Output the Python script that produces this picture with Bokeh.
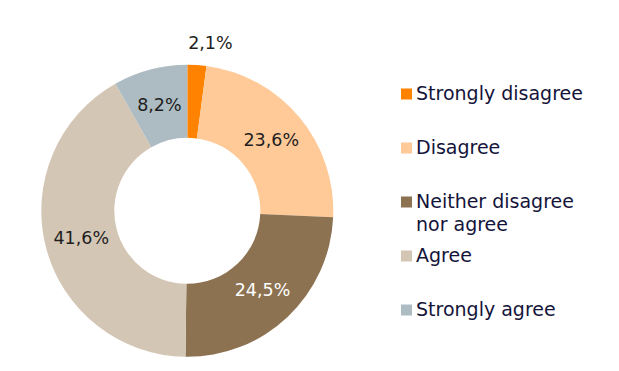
import numpy as np
from bokeh.plotting import figure
from bokeh.models import Range1d, ColumnDataSource
from bokeh.embed import file_html
from bokeh.resources import INLINE
from bokeh.core.properties import value

# ---- data ----
categories = ["Strongly disagree", "Disagree", "Neither disagree\nnor agree", "Agree", "Strongly agree"]
shares = [2.1, 23.6, 24.5, 41.6, 8.2]
labels = ["2,1%", "23,6%", "24,5%", "41,6%", "8,2%"]
colors = ["#FF8200", "#FFCA98", "#8C7250", "#D4C6B5", "#ADBCC2"]
label_colors = ["#1e1e1e", "#1e1e1e", "#ffffff", "#1e1e1e", "#1e1e1e"]

FONT = "DejaVu Sans"
W, H = 603, 360
CX, CY = 186.8, H - 210.3
R_OUT, R_IN = 146, 73

p = figure(width=W, height=H, x_range=Range1d(0, W), y_range=Range1d(0, H),
           output_backend="svg", toolbar_location=None, min_border=0)
p.axis.visible = False
p.grid.visible = False
p.outline_line_color = None

vals = np.array(shares, dtype=float)
frac = vals / vals.sum()
cum_end = np.cumsum(frac)
cum_start = cum_end - frac
start = np.pi / 2 - 2 * np.pi * cum_start
end = np.pi / 2 - 2 * np.pi * cum_end
mid = (start + end) / 2

src = ColumnDataSource(dict(start=start, end=end, color=colors))
p.annular_wedge(x=CX, y=CY, inner_radius=R_IN, outer_radius=R_OUT,
                start_angle="start", end_angle="end", direction="clock",
                fill_color="color", line_color=None, source=src)

# labels: inside at mid radius, outside for very small slices
lx, ly = [], []
for f, a in zip(frac, mid):
    if f < 0.05:
        r = R_OUT + 22
        lx.append(CX + r * np.cos(a) + 12)
        ly.append(CY + r * np.sin(a))
    else:
        r = (R_OUT + R_IN) / 2
        lx.append(CX + r * np.cos(a))
        ly.append(CY + r * np.sin(a))
p.text(x=lx, y=ly, text=labels, text_color=label_colors,
       text_align="center", text_baseline="middle",
       text_font=value(FONT), text_font_size="17.5px")

# legend
LEG_X, LEG_Y0, LEG_DY, LINE_H = 406, H - 92.5, 54, 22.5
sq_x, sq_y, tx, ty, tt = [], [], [], [], []
for i, (cat, c) in enumerate(zip(categories, colors)):
    y = LEG_Y0 - i * LEG_DY
    sq_x.append(LEG_X)
    sq_y.append(y - 1)
    for j, line in enumerate(cat.split("\n")):
        tx.append(LEG_X + 9.5)
        ty.append(y - j * LINE_H)
        tt.append(line)
p.scatter(x=sq_x, y=sq_y, marker="square", size=11, fill_color=colors, line_color=None)
p.text(x=tx, y=ty, text=tt, text_color="#14143a", text_align="left",
       text_baseline="middle", text_font=value(FONT), text_font_size="19px")

open("out.html", "w").write(file_html(p, INLINE))
